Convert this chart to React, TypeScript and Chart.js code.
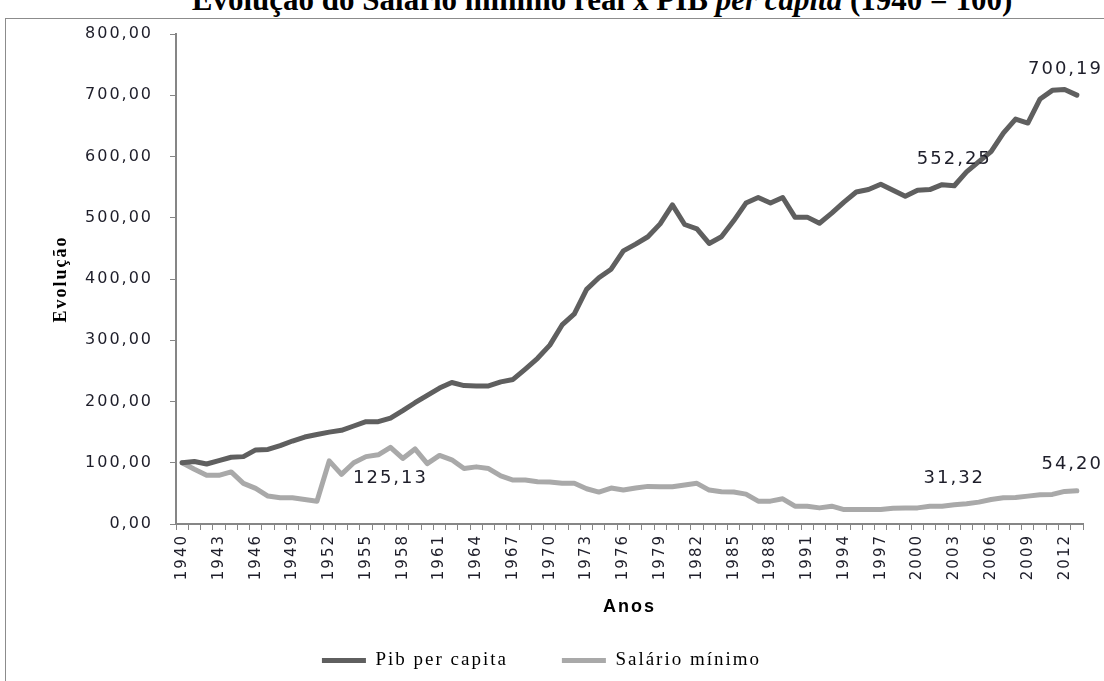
import React, { useEffect, useRef } from 'react';
import { Chart, registerables } from 'chart.js';

Chart.register(...registerables);

const years = [
  '1940', '1941', '1942', '1943', '1944', '1945', '1946', '1947', '1948', '1949',
  '1950', '1951', '1952', '1953', '1954', '1955', '1956', '1957', '1958', '1959',
  '1960', '1961', '1962', '1963', '1964', '1965', '1966', '1967', '1968', '1969',
  '1970', '1971', '1972', '1973', '1974', '1975', '1976', '1977', '1978', '1979',
  '1980', '1981', '1982', '1983', '1984', '1985', '1986', '1987', '1988', '1989',
  '1990', '1991', '1992', '1993', '1994', '1995', '1996', '1997', '1998', '1999',
  '2000', '2001', '2002', '2003', '2004', '2005', '2006', '2007', '2008', '2009',
  '2010', '2011', '2012', '2013',
];

const pibPerCapita = [
  100, 102, 98, 103.5, 109, 110, 121, 121.7, 128, 135.5,
  142, 146, 150, 153, 160, 167, 167, 173, 185, 198,
  210, 222, 231, 226, 225.5, 225.5, 232, 236, 253, 270.5,
  292, 325, 343, 383, 402, 416, 446, 457, 469, 490,
  521, 489, 482, 458, 469, 495, 524, 533, 524, 533,
  501, 501, 491, 507.5, 525.6, 542, 546, 554.7, 544.9, 535,
  545, 546, 554, 552.25, 575, 591.7, 608, 638, 661, 654.6,
  694, 708, 709.5, 700.19,
];

const salarioMinimo = [
  100, 89.4, 79.5, 79.5, 85, 66.4, 58.1, 45.6, 42.8, 42.8,
  40, 37.3, 103, 81, 100, 110, 113, 125.13, 107, 122.6,
  98.7, 112, 104.8, 90.5, 93.3, 90.5, 78.5, 71.8, 71.8, 69.1,
  68.6, 66.4, 66.4, 57.6, 52.1, 58.7, 55.4, 58.7, 61.4, 60.9,
  60.9, 63.6, 66.4, 55.4, 52.7, 52.1, 48.8, 37.3, 37.3, 41.2,
  29.1, 29.1, 26.3, 29.1, 23.6, 23.6, 23.6, 23.6, 25.8, 26.3,
  26.3, 29.1, 29.1, 31.32, 33, 35.7, 40, 42.8, 43.3, 45.5,
  47.7, 48.3, 53.2, 54.2,
];

const seriesNames = ['Pib per capita', 'Salário mínimo'];

// annotated points: [datasetIndex, categoryIndex, placement]
const annotatedPoints: [number, number, 'above' | 'below'][] = [
  [1, 17, 'below'],
  [0, 63, 'above'],
  [0, 73, 'above'],
  [1, 63, 'above'],
  [1, 73, 'above'],
];

const fmt = (v: number) => v.toFixed(2).replace('.', ',');

const spacingPlugin = {
  id: 'letterSpacing',
  beforeLayout(chart: any) {
    chart.ctx.letterSpacing = '2px';
  },
  beforeDraw(chart: any) {
    chart.ctx.letterSpacing = '2px';
  },
};

const labelPlugin = {
  id: 'pointLabels',
  afterDatasetsDraw(chart: any) {
    const ctx = chart.ctx;
    ctx.save();
    ctx.letterSpacing = '2px';
    ctx.font = '18px "DejaVu Sans"';
    ctx.fillStyle = '#1e1e2a';
    ctx.textAlign = 'center';
    ctx.textBaseline = 'middle';
    annotatedPoints.forEach(([ds, idx, place]) => {
      const el = chart.getDatasetMeta(ds).data[idx];
      const value = chart.data.datasets[ds].data[idx];
      const text = fmt(value);
      const w = ctx.measureText(text).width;
      let x = el.x;
      if (x + w / 2 > chart.width - 1) x = chart.width - 1 - w / 2;
      const y = place === 'above' ? el.y - 26 : el.y + 31;
      ctx.fillText(text, x, y);
    });
    ctx.restore();
  },
};

export default function App() {
  const canvasRef = useRef<HTMLCanvasElement | null>(null);

  useEffect(() => {
    const canvas = canvasRef.current;
    if (!canvas) return;
    const axisColor = '#868686';
    const chart = new Chart(canvas, {
      type: 'line',
      data: {
        labels: years,
        datasets: [
          {
            label: seriesNames[0],
            data: pibPerCapita,
            borderColor: '#5f5f5f',
            backgroundColor: '#5f5f5f',
            borderWidth: 5,
            pointRadius: 0,
            borderJoinStyle: 'round',
            borderCapStyle: 'round',
            tension: 0,
          },
          {
            label: seriesNames[1],
            data: salarioMinimo,
            borderColor: '#a9a9a9',
            backgroundColor: '#a9a9a9',
            borderWidth: 5,
            pointRadius: 0,
            borderJoinStyle: 'round',
            borderCapStyle: 'round',
            tension: 0,
          },
        ],
      },
      options: {
        responsive: false,
        animation: false,
        devicePixelRatio: 1,
        layout: { padding: { top: 34, right: 21, bottom: 1, left: 0 } },
        plugins: {
          tooltip: { enabled: false },
          legend: {
            position: 'bottom',
            labels: {
              boxWidth: 44,
              boxHeight: 5,
              padding: 54,
              color: '#000',
              font: { family: '"Liberation Serif", serif', size: 19 },
              generateLabels: (ch: any) =>
                Chart.defaults.plugins.legend.labels
                  .generateLabels(ch)
                  .map((it: any) => ({ ...it, lineWidth: 0 })),
            },
          },
        },
        scales: {
          x: {
            offset: true,
            afterFit: (scale: any) => {
              scale.height = 73;
            },
            grid: {
              display: true,
              drawOnChartArea: false,
              drawTicks: true,
              tickLength: 6,
              offset: true,
              color: axisColor,
            },
            border: { display: true, color: axisColor, width: 2 },
            ticks: {
              autoSkip: false,
              minRotation: 90,
              maxRotation: 90,
              padding: 4,
              color: '#1e1e2a',
              font: { family: '"DejaVu Sans"', size: 15 },
              callback: (_v: any, i: number) => (i % 3 === 0 ? years[i] : ''),
            },
            title: {
              display: true,
              text: 'Anos',
              color: '#000',
              font: { family: '"Liberation Sans Narrow", "Liberation Sans", sans-serif', size: 18, weight: 'bold' },
              padding: { top: 0, bottom: -21 },
            },
          },
          y: {
            min: 0,
            max: 800,
            afterFit: (scale: any) => {
              scale.width = 176;
            },
            grid: {
              display: true,
              drawOnChartArea: false,
              drawTicks: true,
              tickLength: 6,
              color: axisColor,
            },
            border: { display: true, color: axisColor, width: 2 },
            ticks: {
              stepSize: 100,
              padding: 17,
              color: '#1e1e2a',
              font: { family: '"DejaVu Sans"', size: 16 },
              callback: (v: any) => fmt(Number(v)),
            },
            title: {
              display: true,
              text: 'Evolução',
              color: '#000',
              font: { family: '"Liberation Serif", serif', size: 18, weight: 'bold' },
              padding: { top: 51, bottom: 0 },
            },
          },
        },
      },
      plugins: [spacingPlugin, labelPlugin],
    } as any);
    return () => chart.destroy();
  }, []);

  return (
    <div
      style={{
        position: 'fixed',
        left: 0,
        top: 0,
        width: 1104,
        height: 681,
        overflow: 'hidden',
        background: '#fff',
      }}
    >
      <div
        style={{
          position: 'absolute',
          left: 5,
          top: 18,
          width: 1300,
          height: 900,
          border: '1px solid #8c8c8c',
        }}
      />
      <div
        style={{
          position: 'absolute',
          left: 50,
          top: -16,
          width: 1104,
          textAlign: 'center',
          whiteSpace: 'nowrap',
          fontFamily: '"Liberation Serif", serif',
          fontWeight: 'bold',
          fontSize: 31,
          lineHeight: '31px',
          color: '#000',
        }}
      >
        Evolução do Salário mínimo real x PIB <i>per capita</i> (1940 = 100)
      </div>
      <canvas
        ref={canvasRef}
        width={1104}
        height={681}
        style={{ position: 'absolute', left: 0, top: 0, display: 'block' }}
      />
    </div>
  );
}
